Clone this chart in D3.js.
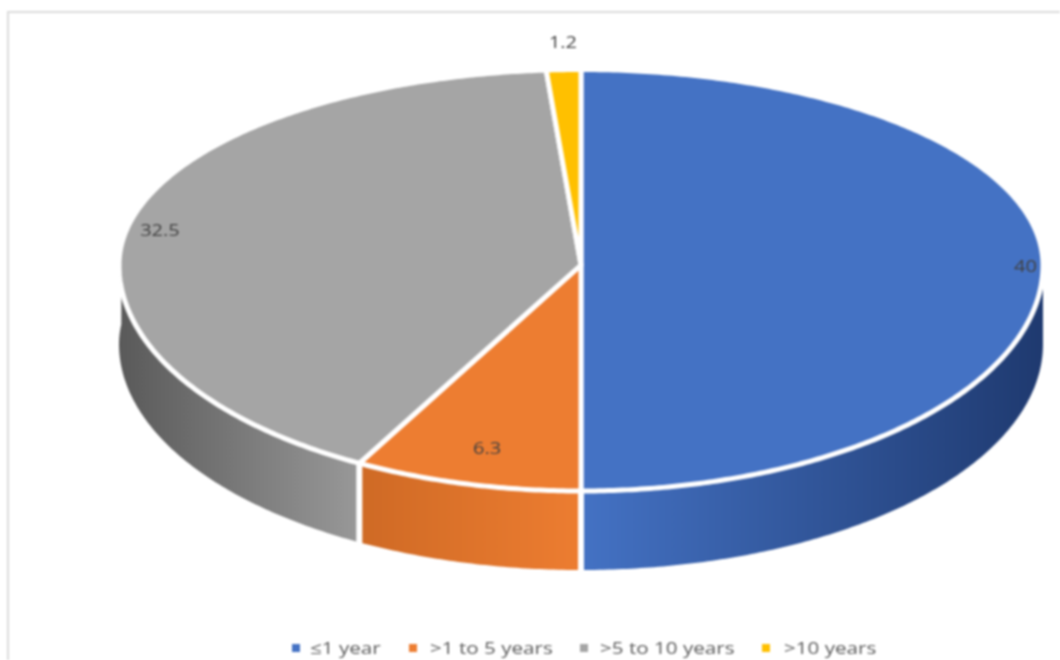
<!DOCTYPE html>
<html>
<head>
<meta charset="utf-8">
<script src="https://cdnjs.cloudflare.com/ajax/libs/d3/7.8.5/d3.min.js"></script>
<style>
html,body{margin:0;padding:0;background:#fff;overflow:hidden}
svg{display:block;filter:blur(1px)}
text{font-family:"Open Sans",sans-serif}
</style>
</head>
<body>
<svg id="chart" width="1060" height="660"></svg>
<script>
const categories = ["≤1 year", ">1 to 5 years", ">5 to 10 years", ">10 years"];
const values = [40, 6.3, 32.5, 1.2];
const labels = ["40", "6.3", "32.5", "1.2"];
const colors = ["#4472C4", "#ED7D31", "#A5A5A5", "#FFC000"];

const labelReach = [0.96, 0.83, 0.93, 1.15];
const labelNudge = [1, 0, 0, 7];
const legendSwatchX = [296, 413, 584, 766];
const legendTextX = [310, 430, 600, 784];
const textStretch = 1.25;
const wallShades = [
  {at: [581, 1040], from: "#4472C4", to: "#1F3A70"},
  {at: [581, 362], from: "#ED7D31", to: "#CF6A25"},
  {at: [362, 121], from: "#999999", to: "#5A5A5A"}
];

const svg = d3.select("#chart");
const tau = 2 * Math.PI;
const depth = 79;

const sx = d3.scaleLinear().domain([-1, 1]).range([581 - 462, 581 + 462]);
const sy = d3.scaleLinear().domain([-1, 0, 1]).range([491, 265, 69.5]);
// far slices look narrower in the tilted view
const foreshorten = a => {
  if (a <= tau / 2) return a;
  const phi = tau - a;
  return tau - (phi - 0.2 * Math.sin(phi) * (1 + Math.cos(phi)) / 2);
};
const px = a => sx(Math.sin(foreshorten(a)));
const py = a => sy(Math.cos(foreshorten(a)));

const arcs = d3.pie().sort(null).value(d => d)(values);
const line = d3.line();
const samples = (a0, a1) => {
  const n = Math.max(2, Math.ceil((a1 - a0) / 0.01));
  return d3.range(n + 1).map(i => a0 + (a1 - a0) * i / n);
};

// frame
svg.append("path").attr("d", "M8,660V12H1060").attr("fill", "none")
  .attr("stroke", "#dcdcdc").attr("stroke-width", 2);

// gradients for the side wall
const defs = svg.append("defs");
wallShades.forEach((s, i) => {
  const g = defs.append("linearGradient").attr("id", "wall" + i)
    .attr("gradientUnits", "userSpaceOnUse")
    .attr("x1", s.at[0]).attr("x2", s.at[1]).attr("y1", 0).attr("y2", 0);
  g.append("stop").attr("offset", 0).attr("stop-color", s.from);
  g.append("stop").attr("offset", 1).attr("stop-color", s.to);
});

// side wall: the part of each slice facing the viewer
arcs.forEach((d, i) => {
  const a0 = Math.max(d.startAngle, tau / 4);
  const a1 = Math.min(d.endAngle, 3 * tau / 4);
  if (a1 <= a0) return;
  const angles = samples(a0, a1);
  const top = angles.map(a => [px(a), py(a)]);
  const bottom = angles.slice().reverse().map(a => [px(a), py(a) + depth]);
  svg.append("path").attr("d", line(top.concat(bottom)) + "Z")
    .attr("fill", `url(#wall${i})`);
});

// wall separators
arcs.forEach(d => {
  const a = d.startAngle;
  if (a >= tau / 4 && a <= 3 * tau / 4) {
    svg.append("line")
      .attr("x1", px(a)).attr("x2", px(a))
      .attr("y1", py(a)).attr("y2", py(a) + depth + 2)
      .attr("stroke", "#fff").attr("stroke-width", 6);
  }
});

// top surface
svg.selectAll("path.slice").data(arcs).join("path")
  .attr("class", "slice")
  .attr("d", d => {
    const pts = samples(d.startAngle, d.endAngle).map(a => [px(a), py(a)]);
    return line([[sx(0), sy(0)]].concat(pts)) + "Z";
  })
  .attr("fill", (d, i) => colors[i])
  .attr("stroke", "#fff")
  .attr("stroke-width", 5)
  .attr("stroke-linejoin", "round");

// data labels
svg.selectAll("text.value").data(arcs).join("text")
  .attr("class", "value")
  .attr("transform", (d, i) => {
    const mid = (d.startAngle + d.endAngle) / 2;
    const x = sx(Math.sin(mid) * labelReach[i]) + labelNudge[i];
    const y = sy(Math.cos(mid) * labelReach[i]);
    return `translate(${x},${y}) scale(${textStretch},1)`;
  })
  .attr("dy", "0.45em")
  .attr("text-anchor", "middle")
  .attr("font-size", 16)
  .attr("fill", "#404040")
  .text((d, i) => labels[i]);

// legend
categories.forEach((c, i) => {
  svg.append("rect").attr("x", legendSwatchX[i] - 4).attr("y", 644)
    .attr("width", 8).attr("height", 8).attr("fill", colors[i]);
  svg.append("text")
    .attr("transform", `translate(${legendTextX[i]},648) scale(${textStretch},1)`)
    .attr("dy", "0.35em")
    .attr("font-size", 16.5).attr("fill", "#595959").text(c);
});
</script>
</body>
</html>
